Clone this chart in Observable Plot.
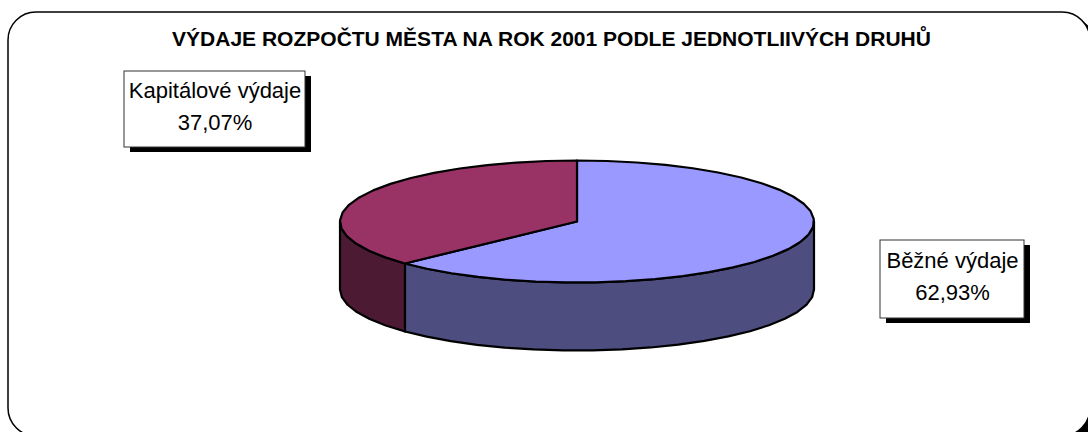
<!DOCTYPE html>
<html><head><meta charset="utf-8">
<script src="https://cdn.jsdelivr.net/npm/d3@7"></script>
<script src="https://cdn.jsdelivr.net/npm/@observablehq/plot@0.6"></script>
<style>html,body{margin:0;padding:0;background:#fff}svg{display:block}</style>
</head><body><div id="chart"></div>
<script>
const title = "VÝDAJE ROZPOČTU MĚSTA NA ROK 2001 PODLE JEDNOTLIIVÝCH DRUHŮ";
const categories = ["Běžné výdaje", "Kapitálové výdaje"];
const shares = [62.93, 37.07];
const shareLabels = ["62,93%", "37,07%"];
const topColors = ["#9999ff", "#993366"];
const sideColors = ["#4d4d80", "#4d1a33"];

const W = 1088, H = 432;
const C = {x: 576.5, y: 221, rx: 237, ry: 61, depth: 68};
const boxes = [
  {x1: 880, x2: 1024, y1: 240, y2: 318},
  {x1: 124, x2: 305, y1: 71, y2: 147}
];
const total = d3.sum(shares);
let acc = 0;
const slices = shares.map((v, i) => {
  const a0 = acc / total * 2 * Math.PI; acc += v;
  return {i, a0, a1: acc / total * 2 * Math.PI};
});
const pt = (a, dy = 0) => ({x: C.x + C.rx * Math.sin(a), y: C.y - C.ry * Math.cos(a) + dy});
const arc = (a0, a1, dy = 0) => {
  const n = Math.max(2, Math.ceil((a1 - a0) / (Math.PI / 24)));
  return d3.range(n + 1).map(k => pt(a0 + (a1 - a0) * k / n, dy));
};
const topFace = s => [{x: C.x, y: C.y}, ...arc(s.a0, s.a1), {x: C.x, y: C.y}];
const sideFace = s => {
  const a0 = Math.max(s.a0, Math.PI / 2), a1 = Math.min(s.a1, 3 * Math.PI / 2);
  if (a1 <= a0) return null;
  const t = arc(a0, a1);
  return [...t, ...arc(a0, a1, C.depth).reverse(), t[0]];
};
const stroke = {stroke: "#000", strokeWidth: 2.2, strokeLinejoin: "round"};
const faces = [];
slices.forEach(s => { const f = sideFace(s); if (f) faces.push(Plot.line(f, {x: "x", y: "y", fill: sideColors[s.i], ...stroke})); });
slices.forEach(s => faces.push(Plot.line(topFace(s), {x: "x", y: "y", fill: topColors[s.i], ...stroke})));

const labels = boxes.map((b, i) => ({...b, text: categories[i] + "\n" + shareLabels[i]}));
const plot = Plot.plot({
  width: W, height: H, margin: 0,
  x: {domain: [0, W], range: [0, W], axis: null},
  y: {domain: [0, H], range: [0, H], axis: null},
  marks: [
    Plot.rect([{x1: 14, x2: 1096, y1: 17, y2: 442}], {x1: "x1", x2: "x2", y1: "y1", y2: "y2", fill: "#000", rx: 28}),
    Plot.rect([{x1: 8, x2: 1090, y1: 12, y2: 436}], {x1: "x1", x2: "x2", y1: "y1", y2: "y2", fill: "#fff", stroke: "#000", strokeWidth: 1.5, rx: 28}),
    Plot.text([title], {x: () => 551, y: () => 39, text: d => d, fontFamily: "Liberation Sans", fontWeight: "bold", fontSize: 21, fill: "#000"}),
    ...faces,
    Plot.rect(labels, {x1: d => d.x1 + 6, x2: d => d.x2 + 6, y1: d => d.y1 + 5, y2: d => d.y2 + 5, fill: "#000"}),
    Plot.rect(labels, {x1: "x1", x2: "x2", y1: "y1", y2: "y2", fill: "#fff", stroke: "#333", strokeWidth: 1}),
    Plot.text(labels, {x: d => (d.x1 + d.x2) / 2, y: d => (d.y1 + d.y2) / 2 - 6, text: "text", fontFamily: "Liberation Sans", fontSize: 22, lineHeight: 1.45, fill: "#000"})
  ]
});
document.getElementById("chart").append(plot);
</script></body></html>
